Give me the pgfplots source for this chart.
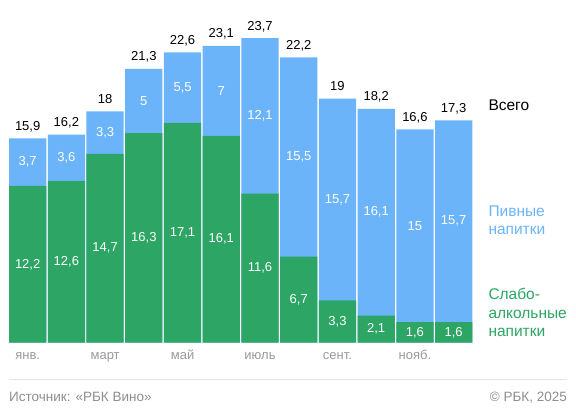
\documentclass[border=0pt]{standalone}
\usepackage{pgfplots}
\pgfplotsset{compat=1.18}
\usepackage{pgfplotstable}
\usepackage{fontspec}
\setmainfont{Liberation Sans}
\definecolor{cgreen}{HTML}{2DA564}
\definecolor{cblue}{HTML}{6CB4FA}
\definecolor{cgray}{HTML}{9A9A9A}
\definecolor{cfoot}{HTML}{8E8E8E}
\definecolor{cline}{HTML}{E3E3E3}
\pgfplotstableread{
x t g b tl gl bl
0 15.9 12.2 3.7 15,9 12,2 3,7
1 16.2 12.6 3.6 16,2 12,6 3,6
2 18.0 14.7 3.3 18 14,7 3,3
3 21.3 16.3 5.0 21,3 16,3 5
4 22.6 17.1 5.5 22,6 17,1 5,5
5 23.1 16.1 7.0 23,1 16,1 7
6 23.7 11.6 12.1 23,7 11,6 12,1
7 22.2 6.7 15.5 22,2 6,7 15,5
8 19.0 3.3 15.7 19 3,3 15,7
9 18.2 2.1 16.1 18,2 2,1 16,1
10 16.6 1.6 15.0 16,6 1,6 15
11 17.3 1.6 15.7 17,3 1,6 15,7
}\data
\begin{document}
\begin{tikzpicture}[x=1pt,y=1pt]
\path[use as bounding box] (0,0) rectangle (576,411);
\fill[white] (0,0) rectangle (576,411);
\begin{axis}[
  at={(8.3pt,68.3pt)}, anchor=south west,
  scale only axis, width=464.7pt, height=334.1pt,
  xmin=-0.5, xmax=11.5, ymin=0, ymax=26,
  clip=false,
  axis line style={draw=none},
  ytick=\empty,
  xtick={0,2,4,6,8,10},
  xticklabels={янв.,март,май,июль,сент.,нояб.},
  major tick length=0pt,
  xticklabel style={anchor=base, inner sep=0pt, yshift=-16.5pt, text=cgray, font=\fontsize{13}{15}\selectfont},
]
\addplot[ybar, bar width=0.962, bar shift=0, fill=cblue, draw=none] table[x=x,y=t]{\data};
\addplot[ybar, bar width=0.962, bar shift=0, fill=cgreen, draw=none] table[x=x,y=g]{\data};
\addplot[draw=none, mark=none, nodes near coords, point meta=explicit symbolic,
  nodes near coords style={anchor=center, inner sep=0pt, text=white, font=\fontsize{13}{15}\selectfont}]
  table[x=x,y expr=\thisrow{g}/2,meta=gl]{\data};
\addplot[draw=none, mark=none, nodes near coords, point meta=explicit symbolic,
  nodes near coords style={anchor=center, inner sep=0pt, text=white, font=\fontsize{13}{15}\selectfont}]
  table[x=x,y expr=\thisrow{g}+\thisrow{b}/2,meta=bl]{\data};
\addplot[draw=none, mark=none, nodes near coords, point meta=explicit symbolic,
  nodes near coords style={anchor=base, inner sep=0pt, yshift=8pt, text=black, font=\fontsize{13}{15}\selectfont}]
  table[x=x,y=t,meta=tl]{\data};
\end{axis}
\begin{scope}[every node/.style={anchor=base west, inner sep=0pt, font=\fontsize{15.5}{18}\selectfont}]
\node[text=black] at (488.3,300.3) {Всего};
\node[text=cblue] at (488.3,194.3) {Пивные};
\node[text=cblue] at (488.3,176) {напитки};
\node[text=cgreen] at (488.3,111) {Слабо-};
\node[text=cgreen] at (488.3,92.5) {алкольные};
\node[text=cgreen] at (488.3,74.3) {напитки};
\end{scope}
\draw[cline, line width=0.8pt] (9,31.5) -- (567,31.5);
\node[anchor=base west, inner sep=0pt, text=cfoot, font=\fontsize{13.5}{15}\selectfont] at (9,9.5) {Источник: «РБК Вино»};
\node[anchor=base east, inner sep=0pt, text=cfoot, font=\fontsize{13.5}{15}\selectfont] at (567,9.5) {© РБК, 2025};
\end{tikzpicture}
\end{document}
